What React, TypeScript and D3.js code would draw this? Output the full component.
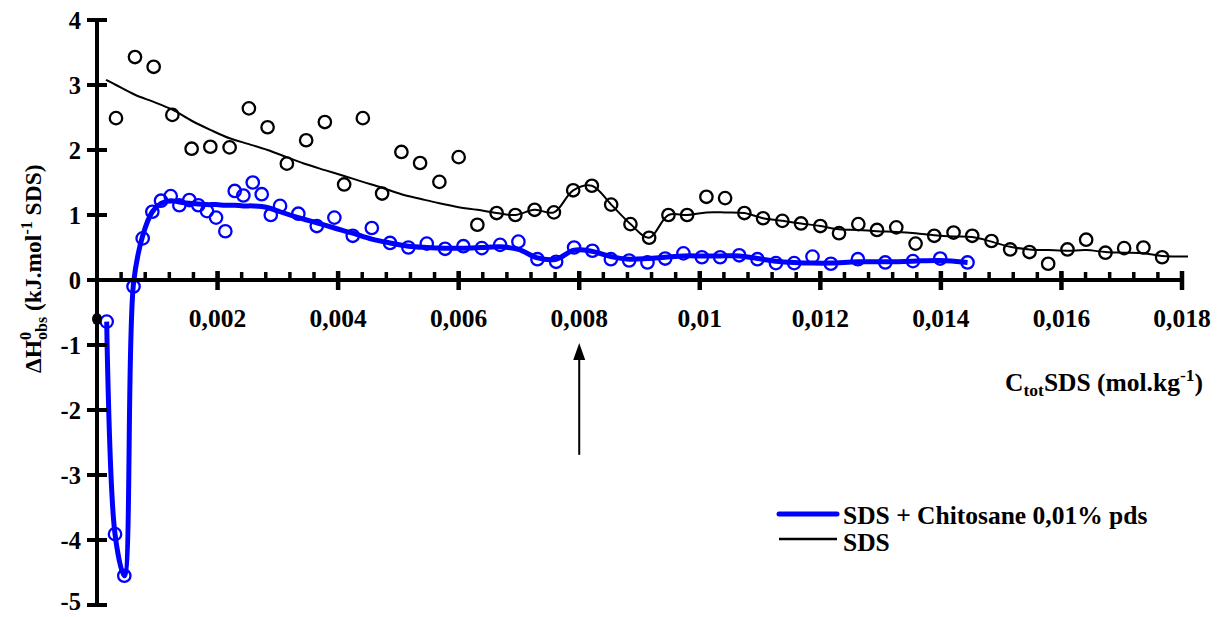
import React from 'react';
import * as d3 from 'd3';

// SDS (black) experimental points
const sdsX = [0.000315, 0.00063, 0.00094, 0.00125, 0.00157, 0.00188, 0.0022, 0.00252, 0.00283, 0.00315, 0.00347, 0.00378, 0.0041, 0.00441, 0.00473, 0.00505, 0.00536, 0.00568, 0.006, 0.00631, 0.00663, 0.00694, 0.00726, 0.00758, 0.0079, 0.00821, 0.00853, 0.00885, 0.00916, 0.00948, 0.00979, 0.01011, 0.01042, 0.01074, 0.01105, 0.01137, 0.01168, 0.012, 0.01231, 0.01263, 0.01294, 0.01326, 0.01358, 0.01389, 0.01421, 0.01452, 0.01484, 0.01515, 0.01547, 0.01578, 0.0161, 0.01641, 0.01673, 0.01704, 0.01736, 0.01767];
const sdsY = [2.49, 3.43, 3.28, 2.54, 2.02, 2.05, 2.04, 2.64, 2.35, 1.79, 2.15, 2.43, 1.47, 2.49, 1.33, 1.97, 1.8, 1.51, 1.89, 0.85, 1.03, 1.0, 1.08, 1.04, 1.38, 1.45, 1.16, 0.86, 0.65, 1.0, 1.0, 1.28, 1.26, 1.03, 0.95, 0.91, 0.87, 0.83, 0.72, 0.86, 0.77, 0.81, 0.56, 0.68, 0.73, 0.68, 0.6, 0.47, 0.43, 0.25, 0.47, 0.62, 0.42, 0.49, 0.5, 0.35];

// SDS (black) smoothed line
const sdsLineX = [0.00015, 0.000315, 0.00063, 0.00094, 0.00125, 0.00157, 0.00188, 0.0022, 0.00252, 0.00283, 0.00315, 0.00347, 0.00378, 0.0041, 0.00441, 0.00473, 0.00505, 0.00536, 0.00568, 0.006, 0.00631, 0.00663, 0.00694, 0.00726, 0.00758, 0.0079, 0.00821, 0.00853, 0.00885, 0.00916, 0.00948, 0.00979, 0.01011, 0.01042, 0.01074, 0.01105, 0.01137, 0.01168, 0.012, 0.01231, 0.01263, 0.01294, 0.01326, 0.01358, 0.01389, 0.01421, 0.01452, 0.01484, 0.01515, 0.01547, 0.01578, 0.0161, 0.01641, 0.01673, 0.01704, 0.01736, 0.01767, 0.0181];
const sdsLineY = [3.08, 3.0, 2.85, 2.74, 2.62, 2.45, 2.31, 2.18, 2.09, 2.0, 1.89, 1.78, 1.69, 1.6, 1.51, 1.42, 1.32, 1.25, 1.18, 1.12, 1.08, 1.03, 1.0, 1.08, 1.04, 1.38, 1.45, 1.16, 0.86, 0.65, 1.0, 1.0, 1.04, 1.04, 1.03, 0.95, 0.91, 0.87, 0.83, 0.78, 0.77, 0.75, 0.74, 0.72, 0.69, 0.67, 0.66, 0.59, 0.51, 0.47, 0.46, 0.45, 0.46, 0.43, 0.42, 0.41, 0.37, 0.36];

// SDS + Chitosane (blue) points
const chitoX = [0.000161, 0.000299, 0.000453, 0.000606, 0.000758, 0.000918, 0.001062, 0.001223, 0.001366, 0.001532, 0.001681, 0.001825, 0.001975, 0.002129, 0.002285, 0.002428, 0.002584, 0.002733, 0.002883, 0.003037, 0.00334, 0.003646, 0.003938, 0.004243, 0.004559, 0.004862, 0.005166, 0.005471, 0.005775, 0.006078, 0.006384, 0.006688, 0.006991, 0.007307, 0.007617, 0.007915, 0.008219, 0.008525, 0.008828, 0.009132, 0.009426, 0.009729, 0.010035, 0.010338, 0.010654, 0.010957, 0.011263, 0.011566, 0.01187, 0.012175, 0.012623, 0.013077, 0.013536, 0.013989, 0.014442];
const chitoY = [-0.64, -3.91, -4.55, -0.1, 0.64, 1.05, 1.22, 1.29, 1.15, 1.23, 1.15, 1.06, 0.96, 0.75, 1.37, 1.3, 1.5, 1.32, 1.0, 1.14, 1.02, 0.83, 0.96, 0.68, 0.8, 0.57, 0.5, 0.56, 0.48, 0.52, 0.49, 0.54, 0.59, 0.32, 0.28, 0.5, 0.45, 0.32, 0.3, 0.27, 0.33, 0.41, 0.35, 0.35, 0.38, 0.32, 0.26, 0.26, 0.36, 0.25, 0.32, 0.27, 0.29, 0.33, 0.27];
// SDS + Chitosane (blue) smoothed line, at the same concentrations
const chitoLineY = [-0.64, -3.91, -4.55, -0.05, 0.68, 1.05, 1.18, 1.22, 1.2, 1.18, 1.17, 1.16, 1.16, 1.15, 1.15, 1.14, 1.14, 1.13, 1.1, 1.05, 0.96, 0.88, 0.8, 0.72, 0.63, 0.57, 0.52, 0.5, 0.49, 0.49, 0.5, 0.51, 0.47, 0.34, 0.32, 0.46, 0.44, 0.36, 0.32, 0.33, 0.35, 0.37, 0.37, 0.37, 0.37, 0.33, 0.29, 0.27, 0.26, 0.26, 0.28, 0.28, 0.29, 0.3, 0.27];

// point at origin of concentration axis
const originX = [0];
const originY = [-0.6];

const xTickValues = [0.002, 0.004, 0.006, 0.008, 0.01, 0.012, 0.014, 0.016, 0.018];
const xTickLabels = ['0,002', '0,004', '0,006', '0,008', '0,01', '0,012', '0,014', '0,016', '0,018'];
const yTickValues = [4, 3, 2, 1, 0, -1, -2, -3, -4, -5];
const yTickLabels = ['4', '3', '2', '1', '0', '-1', '-2', '-3', '-4', '-5'];

const arrowX = 0.008;
const arrowTop = -0.97;
const arrowBottom = -2.69;

const legendLabels = ['SDS + Chitosane 0,01% pds', 'SDS'];

const FONT = "'Liberation Serif', 'Times New Roman', Times, serif";

export default function App() {
  const x = d3.scaleLinear().domain([0, 0.018]).range([97, 1182]);
  const y = d3.scaleLinear().domain([-5, 4]).range([605, 20]);
  const line = d3
    .line<[number, number]>()
    .x((d) => x(d[0]))
    .y((d) => y(d[1]))
    .curve(d3.curveCatmullRom.alpha(0.5));

  const sdsLinePts: [number, number][] = sdsLineX.map((v, i) => [v, sdsLineY[i]]);
  const chitoLinePts: [number, number][] = chitoX.map((v, i) => [v, chitoLineY[i]]);
  const minorTicks = d3.range(0.0004, 0.01801, 0.0004);
  const y0 = y(0);
  const tStyle = { fontFamily: FONT, fontWeight: 700 } as React.CSSProperties;

  return (
    <svg
      width={1222}
      height={617}
      style={{ position: 'absolute', left: 0, top: 0, background: '#fff', fontFamily: FONT }}
    >
      <rect x={0} y={0} width={1222} height={617} fill="#fff" />
      {/* SDS black line */}
      <path d={line(sdsLinePts) || ''} fill="none" stroke="#000" strokeWidth={2} />
      {sdsX.map((v, i) => (
        <circle key={'s' + i} cx={x(v)} cy={y(sdsY[i])} r={6.2} fill="none" stroke="#000" strokeWidth={2.3} />
      ))}
      {/* blue series */}
      <path d={line(chitoLinePts) || ''} fill="none" stroke="#0000ff" strokeWidth={5} strokeLinejoin="round" />
      {chitoX.map((v, i) => (
        <circle key={'c' + i} cx={x(v)} cy={y(chitoY[i])} r={6.2} fill="none" stroke="#0000ff" strokeWidth={2.3} />
      ))}

      {/* axes */}
      <line x1={x(0)} x2={x(0)} y1={y(4) - 1} y2={y(-5) + 1} stroke="#000" strokeWidth={4} />
      <line x1={x(0)} x2={x(0.018)} y1={y0} y2={y0} stroke="#000" strokeWidth={4} />
      {yTickValues.map((v, i) => (
        <g key={'yt' + i}>
          <line x1={x(0) - 10} x2={x(0) + 10} y1={y(v)} y2={y(v)} stroke="#000" strokeWidth={4} />
          <text x={81} y={Math.min(y(v), 601)} dy="0.35em" textAnchor="end" fontSize={24.5} style={tStyle}>
            {yTickLabels[i]}
          </text>
        </g>
      ))}
      {minorTicks.map((v, i) => (
        <line key={'mt' + i} x1={x(v)} x2={x(v)} y1={y0 - 8} y2={y0} stroke="#000" strokeWidth={3.5} />
      ))}
      {xTickValues.map((v, i) => (
        <g key={'xt' + i}>
          <line x1={x(v)} x2={x(v)} y1={y0 - 9} y2={y0 + 10} stroke="#000" strokeWidth={4.5} />
          <text x={x(v)} y={327} textAnchor="middle" fontSize={25.5} style={tStyle}>
            {xTickLabels[i]}
          </text>
        </g>
      ))}
      {originX.map((v, i) => (
        <ellipse key={'o' + i} cx={x(v)} cy={y(originY[i])} rx={5} ry={6} fill="#000" />
      ))}

      {/* y axis title */}
      <g transform="translate(41,268) rotate(-90)">
        <text x={-105} y={0} fontSize={23.5} style={tStyle}>
          <tspan>ΔH</tspan>
          <tspan fontSize={16} dy={-10}>0</tspan>
          <tspan fontSize={16} dx={-8} dy={16}>obs</tspan>
          <tspan dy={-6}> (kJ.mol</tspan>
          <tspan fontSize={16} dy={-9}>-1</tspan>
          <tspan dy={9}> SDS)</tspan>
        </text>
      </g>

      {/* x axis title */}
      <text x={1203} y={391} textAnchor="end" fontSize={25.5} style={tStyle}>
        <tspan>C</tspan>
        <tspan fontSize={17.5} dy={5}>tot</tspan>
        <tspan dy={-5}>SDS (mol.kg</tspan>
        <tspan fontSize={17.5} dy={-10}>-1</tspan>
        <tspan dy={10}>)</tspan>
      </text>

      {/* arrow */}
      <line x1={x(arrowX)} x2={x(arrowX)} y1={y(arrowBottom)} y2={y(arrowTop) + 12} stroke="#000" strokeWidth={2} />
      <path
        d={`M${x(arrowX)},${y(arrowTop)} L${x(arrowX) - 6},${y(arrowTop) + 17} L${x(arrowX) + 6},${y(arrowTop) + 17} Z`}
        fill="#000"
      />

      {/* legend */}
      <line x1={779} x2={837} y1={514} y2={514} stroke="#0000ff" strokeWidth={5} strokeLinecap="round" />
      <text x={843} y={524} fontSize={25.5} style={tStyle}>{legendLabels[0]}</text>
      <line x1={779} x2={837} y1={539} y2={539} stroke="#000" strokeWidth={2.5} />
      <text x={843} y={551} fontSize={25.5} style={tStyle}>{legendLabels[1]}</text>
    </svg>
  );
}
